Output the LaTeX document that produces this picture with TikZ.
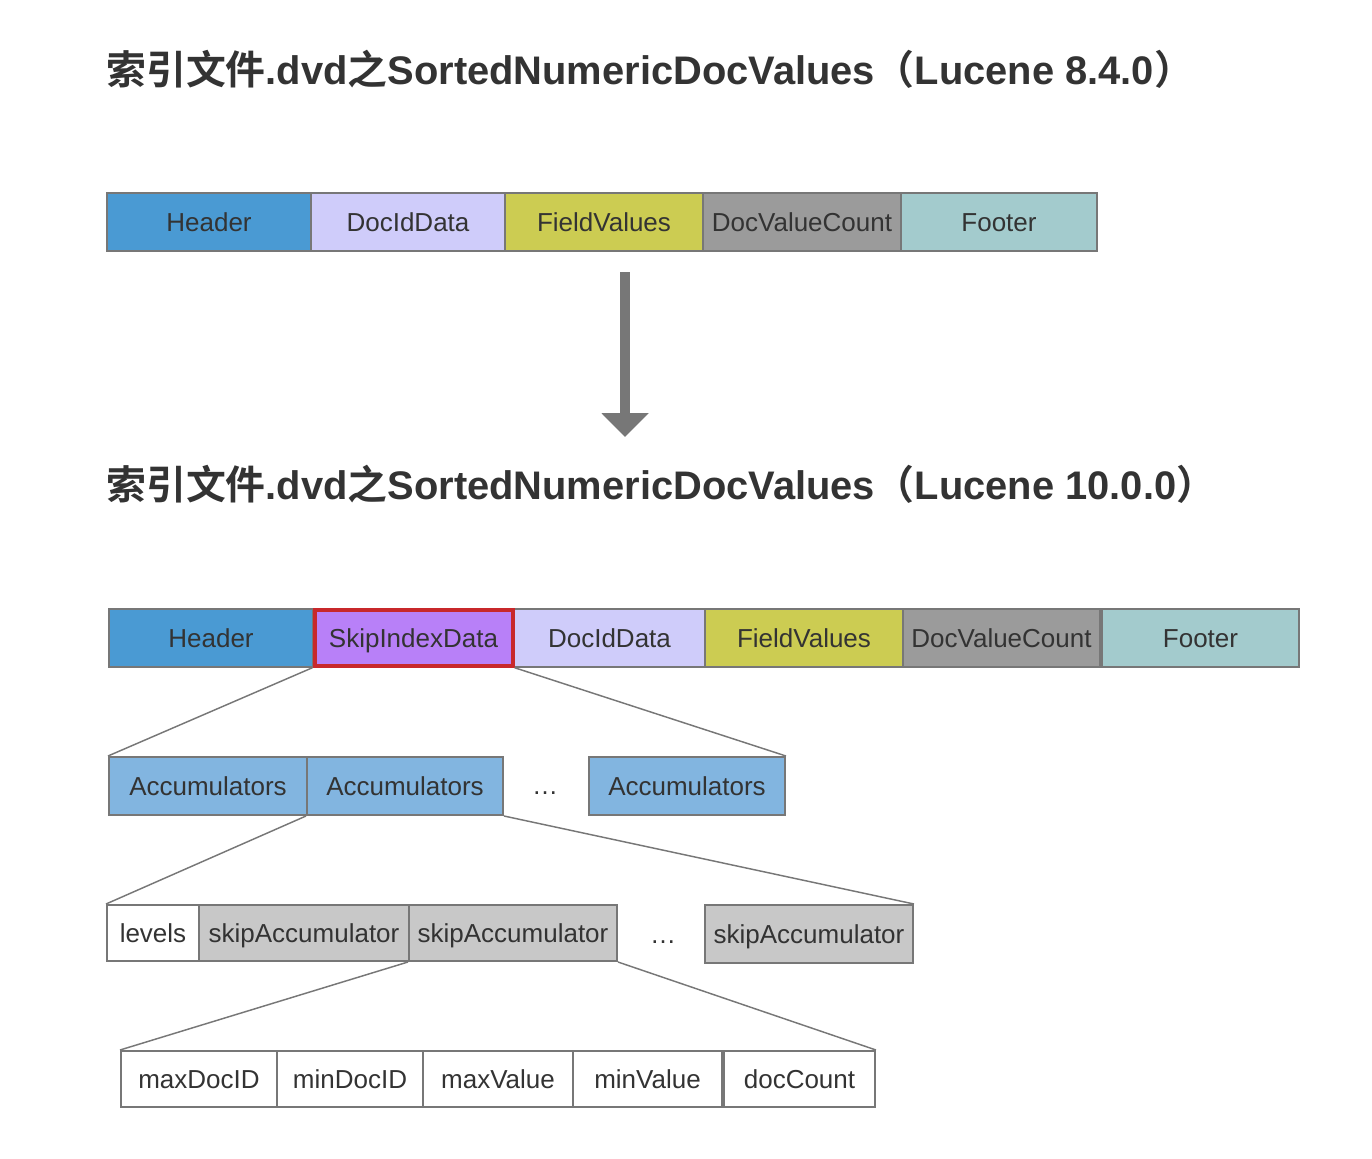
\documentclass[tikz,border=0pt]{standalone}
\usepackage{fontspec}
\setmainfont{Liberation Sans}
\newfontfamily\cjk{Noto Sans CJK SC}[BoldFont={* Bold}]
\usetikzlibrary{arrows.meta}
\definecolor{bordergray}{HTML}{777777}
\definecolor{txtgray}{HTML}{333333}
\definecolor{hdrblue}{HTML}{4A9AD3}
\definecolor{docidc}{HTML}{CFCCFA}
\definecolor{fieldc}{HTML}{CCCC52}
\definecolor{dvcc}{HTML}{9B9B9B}
\definecolor{footc}{HTML}{A3CBCD}
\definecolor{skipc}{HTML}{B880F8}
\definecolor{redc}{HTML}{C8282B}
\definecolor{accc}{HTML}{82B5E0}
\definecolor{sgray}{HTML}{C8C8C8}
\tikzset{
  cell/.style={draw=bordergray, line width=1.5pt, minimum height=43.5pt, inner sep=0pt,
    text height=14pt, text depth=0pt,
    font=\fontsize{19.5pt}{22pt}\selectfont, text=txtgray},
  thin cell/.style={cell, minimum height=42pt},
  conn/.style={draw=bordergray, line width=1.1pt},
  titletext/.style={anchor=base west, inner sep=0pt, text=txtgray,
    font=\fontsize{29.9pt}{32pt}\selectfont\bfseries},
  dots/.style={inner sep=0pt, text=txtgray, font=\fontsize{19.5pt}{22pt}\selectfont}
}
\begin{document}
\begin{tikzpicture}[x=0.75pt, y=-0.75pt]
\useasboundingbox (0,0) rectangle (1372,1158);
% titles
\node[titletext] (t1) at (106,84) {{\cjk\bfseries 索引文件}.dvd{\cjk\bfseries 之}SortedNumericDocValues{\cjk\bfseries （}Lucene 8.4.0{\cjk\bfseries ）}};
\node[titletext] (t2) at (106,499) {{\cjk\bfseries 索引文件}.dvd{\cjk\bfseries 之}SortedNumericDocValues{\cjk\bfseries （}Lucene 10.0.0{\cjk\bfseries ）}};
% top row
\node[cell, fill=hdrblue, minimum width=153pt] (h1) at (209,222) {Header};
\node[cell, fill=docidc, minimum width=145.5pt] (d1) at (408,222) {DocIdData};
\node[cell, fill=fieldc, minimum width=148.5pt] (f1) at (604,222) {FieldValues};
\node[cell, fill=dvcc, minimum width=148.5pt] (c1) at (802,222) {DocValueCount};
\node[cell, fill=footc, minimum width=147pt] (o1) at (999,222) {Footer};
% arrow
\coordinate (as) at (625,272);
\coordinate (ae) at (625,437);
\draw[bordergray, line width=7.5pt, -{Triangle[width=34.5pt,length=18pt]}] (as) -- (ae);
% second row
\node[cell, fill=hdrblue, minimum width=153pt] (h2) at (211,638) {Header};
\node[cell, fill=docidc, minimum width=143.25pt] (d2) at (609.5,638) {DocIdData};
\node[cell, fill=fieldc, minimum width=148.5pt] (f2) at (804,638) {FieldValues};
\node[cell, fill=dvcc, minimum width=147.75pt] (c2) at (1001.5,638) {DocValueCount};
\node[cell, fill=footc, minimum width=147.75pt] (o2) at (1200.5,638) {Footer};
\node[cell, fill=skipc, draw=redc, line width=3pt, minimum width=148.5pt, minimum height=41.5pt] (s2) at (413.5,638) {SkipIndexData};
% accumulators
\node[cell, fill=accc, minimum width=148.5pt] (a1) at (208,786) {Accumulators};
\node[cell, fill=accc, minimum width=147pt] (a2) at (405,786) {Accumulators};
\node[dots] (ad) at (545,793) {\dots};
\node[cell, fill=accc, minimum width=147pt] (a3) at (687,786) {Accumulators};
% skip accumulators
\node[thin cell, fill=white, minimum width=69pt] (lv) at (153,933) {levels};
\node[thin cell, fill=sgray, minimum width=157.5pt] (k1) at (304,933) {skipAccumulator};
\node[thin cell, fill=sgray, minimum width=156pt] (k2) at (513,933) {skipAccumulator};
\node[dots] (kd) at (663,942) {\dots};
\node[cell, fill=sgray, minimum width=156pt] (k3) at (809,934) {skipAccumulator};
% bottom row
\node[thin cell, fill=white, minimum width=117pt] (b1) at (199,1079) {maxDocID};
\node[thin cell, fill=white, minimum width=109.5pt] (b2) at (350,1079) {minDocID};
\node[thin cell, fill=white, minimum width=112.5pt] (b3) at (498,1079) {maxValue};
\node[thin cell, fill=white, minimum width=111.75pt] (b4) at (647.5,1079) {minValue};
\node[thin cell, fill=white, minimum width=113.25pt] (b5) at (799.5,1079) {docCount};
% connectors
\draw[conn] (s2.south west) -- (a1.north west);
\draw[conn] (s2.south east) -- (a3.north east);
\draw[conn] (a2.south west) -- (lv.north west);
\draw[conn] (a2.south east) -- (k3.north east);
\draw[conn] (k2.south west) -- (b1.north west);
\draw[conn] (k2.south east) -- (b5.north east);
\end{tikzpicture}
\end{document}
